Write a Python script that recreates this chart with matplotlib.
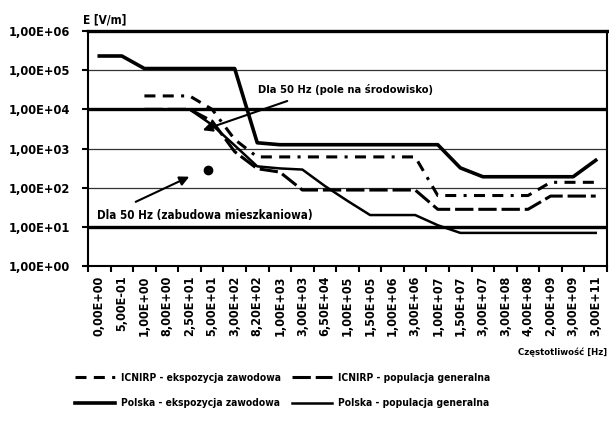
import numpy as np
import matplotlib.pyplot as plt
import matplotlib as mpl
from matplotlib.ticker import FixedLocator, NullFormatter

mpl.rcParams['font.family'] = ['DejaVu Sans']
mpl.rcParams['font.stretch'] = 'condensed'
mpl.rcParams['font.weight'] = 'bold'

# dane
freq_labels = ['0,00E+00', '5,00E-01', '1,00E+00', '8,00E+00', '2,50E+01', '5,00E+01',
               '3,00E+02', '8,20E+02', '1,00E+03', '3,00E+03', '6,50E+04', '1,00E+05',
               '1,50E+05', '1,00E+06', '3,00E+06', '1,00E+07', '1,50E+07', '3,00E+07',
               '3,00E+08', '4,00E+08', '2,00E+09', '3,00E+09', '3,00E+11']

nan = np.nan
icnirp_occ = [nan, nan, 2.2e4, 2.2e4, 2.2e4, 1.0e4, 1.7e3, 6.1e2, 6.1e2, 6.1e2, 6.1e2, 6.1e2,
              6.1e2, 6.1e2, 6.1e2, 63, 63, 63, 63, 63, 137, 137, 137]
icnirp_gen = [nan, nan, 1.0e4, 1.0e4, 1.0e4, 5.0e3, 8.3e2, 3.05e2, 2.5e2, 87, 87, 87,
              87, 87, 87, 28, 28, 28, 28, 28, 61, 61, 61]
pl_occ = [2.3e5, 2.3e5, 1.1e5, 1.1e5, 1.1e5, 1.1e5, 1.1e5, 1.4e3, 1.25e3, 1.25e3, 1.25e3, 1.25e3,
          1.25e3, 1.25e3, 1.25e3, 1.25e3, 3.2e2, 1.9e2, 1.9e2, 1.9e2, 1.9e2, 1.9e2, 5.0e2]
pl_gen = [nan, nan, 1.0e4, 1.0e4, 1.0e4, 4.0e3, 1.2e3, 3.5e2, 3.1e2, 2.9e2, 1.1e2, 46,
          20, 20, 20, 11, 7, 7, 7, 7, 7, 7, 7]
# poziomy dla 50 Hz
levels_50hz = [1.0e4, 1.0e1]
dot_cat = 4.8
dot_val = 2.9e2

y_ticks = [1e0, 1e1, 1e2, 1e3, 1e4, 1e5, 1e6]
y_labels = ['1,00E+00', '1,00E+01', '1,00E+02', '1,00E+03', '1,00E+04', '1,00E+05', '1,00E+06']

x = np.arange(len(freq_labels))

fig = plt.figure(figsize=(6.09, 4.21), dpi=100)
ax = fig.add_axes([88/609, 1-266/421, 519/609, 235/421])

ax.set_yscale('log')
ax.set_ylim(1, 1e6)
ax.set_xlim(-0.5, len(freq_labels)-0.5)

# siatka
for v in y_ticks:
    ax.axhline(v, color='#333333', lw=0.9, zorder=1)
for v in levels_50hz:
    ax.axhline(v, color='black', lw=2.4, zorder=2)

ax.plot(x, icnirp_occ, color='black', lw=2.2, dashes=(3.6, 2.4, 3.6, 2.4, 1.0, 2.4), label='ICNIRP - ekspozycja zawodowa', zorder=3)
ax.plot(x, icnirp_gen, color='black', lw=2.2, dashes=(6, 1.6), label='ICNIRP - populacja generalna', zorder=3)
ax.plot(x, pl_occ, color='black', lw=2.6, label='Polska - ekspozycja zawodowa', zorder=4)
ax.plot(x, pl_gen, color='black', lw=1.8, label='Polska - populacja generalna', zorder=4)
ax.plot([dot_cat], [dot_val], 'o', color='black', ms=6, zorder=5)

# adnotacje
ax.annotate('', xy=(0.216, 0.574), xytext=(0.389, 0.706), xycoords='axes fraction',
            arrowprops=dict(arrowstyle='-|>', color='black', lw=1.5, mutation_scale=14))
ax.text(0.328, 0.749, 'Dla 50 Hz (pole na środowisko)', transform=ax.transAxes,
        fontsize=8, va='center', ha='left')
ax.annotate('', xy=(0.200, 0.385), xytext=(0.087, 0.268), xycoords='axes fraction',
            arrowprops=dict(arrowstyle='-|>', color='black', lw=1.5, mutation_scale=14))
ax.text(0.017, 0.217, 'Dla 50 Hz (zabudowa mieszkaniowa)', transform=ax.transAxes,
        fontsize=8.4, va='center', ha='left')

# osie
ax.set_yticks(y_ticks)
ax.set_yticklabels(y_labels, fontsize=9.2)
ax.yaxis.set_minor_locator(FixedLocator([]))
ax.tick_params(axis='y', which='major', length=4, width=1.5, pad=9)

ax.set_xticks(x)
ax.set_xticklabels(freq_labels, rotation=90, fontsize=9)
ax.tick_params(axis='x', which='major', length=0, pad=7)
ax.xaxis.set_minor_locator(FixedLocator(np.arange(len(freq_labels)+1) - 0.5))
ax.xaxis.set_minor_formatter(NullFormatter())
ax.tick_params(axis='x', which='minor', length=4, width=1.5, direction='out')

for s in ax.spines.values():
    s.set_linewidth(1.5)
ax.spines['top'].set_linewidth(2.4)

ax.text(-0.01, 1.045, 'E [V/m]', transform=ax.transAxes, fontsize=8.5, va='center', ha='left')
fig.text(0.997, 1-352/421, 'Częstotliwość [Hz]', fontsize=6.8, ha='right', va='center')

h, l = ax.get_legend_handles_labels()
order = [0, 2, 1, 3]
fig.legend([h[i] for i in order], [l[i] for i in order], ncol=2, loc='upper left',
           bbox_to_anchor=(75/609, 1-373/421), frameon=False, fontsize=7.4,
           borderpad=0, borderaxespad=0,
           handlelength=3.9, columnspacing=1.0, labelspacing=1.5, handletextpad=0.6)

plt.savefig('out.png', dpi=100)
